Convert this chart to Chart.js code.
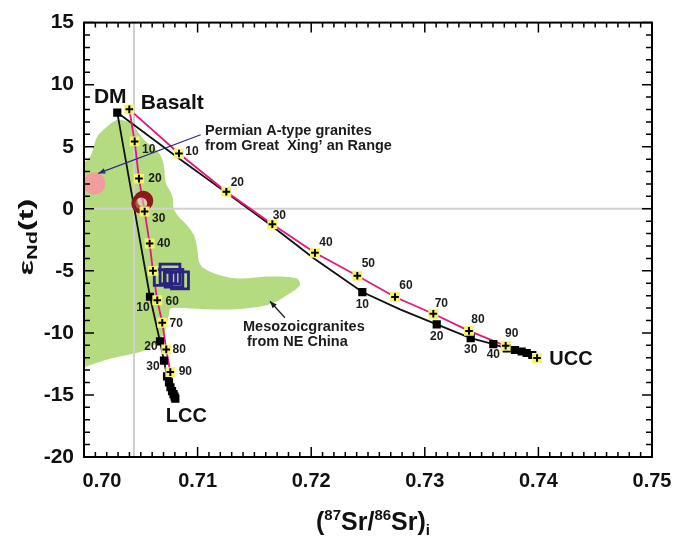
<!DOCTYPE html>
<html lang="en">
<head>
  <meta charset="UTF-8">
  <title>Sr-Nd isotope mixing</title>
  <script src="https://cdnjs.cloudflare.com/ajax/libs/Chart.js/4.4.1/chart.umd.min.js"></script>
  <style>
    body { margin: 0; background: #fff; }
    #wrap { width: 674px; height: 538px; }
  </style>
</head>
<body>
  <div id="wrap"><canvas id="chart"></canvas></div>

  <script>
    // end members
    const dmPoint = [0.70293, 7.75];
    const basaltPoint = [0.70399, 8.01];
    const lccPoint = [0.70804, -15.30];
    const uccPoint = [0.73988, -12.02];

    const mixSteps = ['10', '20', '30', '40', '50', '60', '70', '80', '90'];

    // Basalt -> LCC (yellow marks)
    const basLccX = [0.70446, 0.70484, 0.70534, 0.70578, 0.70607, 0.70645, 0.70689, 0.70724, 0.70760];
    const basLccY = [5.43, 2.43, -0.22, -2.80, -5.00, -7.37, -9.18, -11.33, -13.16];
    // Basalt -> UCC (yellow marks)
    const basUccX = [0.70836, 0.71253, 0.71658, 0.72033, 0.72406, 0.72738, 0.73075, 0.73389, 0.73712];
    const basUccY = [4.45, 1.37, -1.24, -3.55, -5.40, -7.11, -8.46, -9.84, -11.04];
    // DM -> LCC (black marks)
    const dmLccX = [0.70581, 0.70669, 0.70704, 0.70731, 0.70748, 0.70761, 0.70775, 0.70788, 0.70797];
    const dmLccY = [-7.09, -10.69, -12.23, -13.51, -13.98, -14.38, -14.70, -14.94, -15.14];
    // DM -> UCC (black marks)
    const dmUccX = [0.72450, 0.73105, 0.73404, 0.73603, 0.73721, 0.73794, 0.73853, 0.73897, 0.73946];
    const dmUccY = [-6.71, -9.31, -10.42, -10.90, -11.25, -11.38, -11.50, -11.62, -11.78];
    // DM -> UCC curve between the marks
    const dmUccBendX = [0.70836, 0.71285, 0.71637, 0.72025, 0.72782];
    const dmUccBendY = [4.05, 1.08, -1.27, -4.00, -8.11];

    // Permian A-type granites (Great Xing'an Range)
    const permianX = [0.70092];
    const permianY = [2.03];
    // brown ring samples
    const ringX = [0.70522, 0.70504];
    const ringY = [0.65, 0.42];
    // blue square samples
    const blueX = [0.70757, 0.70792, 0.70845, 0.70757, 0.70687];
    const blueY = [-5.26, -5.59, -5.77, -5.58, -5.54];

    // Mesozoic granites from NE China (outline)
    const mesoX = [0.7000, 0.70235, 0.70440, 0.70587, 0.70704, 0.70748, 0.70766, 0.71048, 0.71347, 0.71637,
      0.71840, 0.71901, 0.71875, 0.71637, 0.71347, 0.71171, 0.71056, 0.71012, 0.70997, 0.70968, 0.70909,
      0.70836, 0.70792, 0.70777, 0.70719, 0.70704, 0.70660, 0.70528, 0.70411, 0.70293, 0.70205, 0.70117,
      0.70059, 0.7000];
    const mesoY = [-12.76, -12.07, -11.67, -11.17, -10.08, -8.49, -8.01, -8.09, -8.09, -7.69,
      -6.65, -6.10, -5.62, -5.46, -5.62, -5.30, -4.80, -4.26, -3.20, -2.14, -1.34,
      -0.68, -0.02, 1.05, 2.11, 3.47, 4.50, 5.56, 6.89, 7.16, 6.63, 5.83,
      4.26, 3.71];

    // grey reference lines
    const refX = 0.7044;
    const refY = 0;

    const pts = (xs, ys) => xs.map((x, i) => ({ x: x, y: ys[i] }));
    const pt = p => ({ x: p[0], y: p[1] });

    const basLcc = pts(basLccX, basLccY);
    const basUcc = pts(basUccX, basUccY);
    const dmLcc = pts(dmLccX, dmLccY);
    const dmUcc = pts(dmUccX, dmUccY);
    const dmUccLine = [pt(dmPoint)].concat(pts(dmUccBendX, dmUccBendY), dmUcc, [pt(uccPoint)])
      .sort((a, b) => a.x - b.x);

    const yellow = '#f6f46a';
    const pink = '#e3187c';

    // label offsets (px) for the mixing percentages
    const labelSets = [
      { data: basLcc, skip: ['50'], off: [[14, 8], [16, 0], [14, 7], [14, 0], [0, 0], [15, 1], [14, 1], [13, 0], [15, 0]] },
      { data: basUcc, skip: [], off: [[13, -2], [11, -9], [7, -8], [11, -10], [11, -12], [11, -11], [8, -10], [9, -11], [6, -12]] },
      { data: dmLcc, skip: ['40', '50', '60', '70', '80', '90'], off: [[-7, 11], [-9, 5], [-11, 6]] },
      { data: dmUcc, skip: ['50', '60', '70', '80', '90'], off: [[0, 13], [0, 12], [0, 12], [0, 11]] }
    ];

    const bold = (s) => 'bold ' + s + 'px "Liberation Sans", Arial, sans-serif';

    function arrow(ctx, x0, y0, x1, y1, color) {
      ctx.strokeStyle = color;
      ctx.fillStyle = color;
      ctx.lineWidth = 1.2;
      ctx.beginPath();
      ctx.moveTo(x0, y0);
      ctx.lineTo(x1, y1);
      ctx.stroke();
      const a = Math.atan2(y1 - y0, x1 - x0), L = 7, W = 2.8;
      ctx.beginPath();
      ctx.moveTo(x1, y1);
      ctx.lineTo(x1 - L * Math.cos(a) + W * Math.sin(a), y1 - L * Math.sin(a) - W * Math.cos(a));
      ctx.lineTo(x1 - L * Math.cos(a) - W * Math.sin(a), y1 - L * Math.sin(a) + W * Math.cos(a));
      ctx.closePath();
      ctx.fill();
    }

    function richText(ctx, parts, x, y, align) {
      let w = 0;
      parts.forEach(p => { ctx.font = bold(p.size); w += ctx.measureText(p.t).width; });
      let cx = align === 'center' ? x - w / 2 : x;
      ctx.textAlign = 'left';
      ctx.textBaseline = 'alphabetic';
      parts.forEach(p => {
        ctx.font = bold(p.size);
        ctx.fillText(p.t, cx, y + (p.dy || 0));
        cx += ctx.measureText(p.t).width;
      });
    }

    const overlay = {
      id: 'overlay',
      afterDatasetsDraw(chart) {
        const { ctx, chartArea: a, scales: { x, y } } = chart;
        const px = v => x.getPixelForValue(v);
        const py = v => y.getPixelForValue(v);
        ctx.save();

        // percentage labels
        ctx.fillStyle = '#1c1c1c';
        ctx.font = bold(12);
        ctx.textAlign = 'center';
        ctx.textBaseline = 'middle';
        labelSets.forEach(set => {
          let k = 0;
          set.data.forEach((p, i) => {
            const lab = mixSteps[i];
            if (set.skip.includes(lab)) { if (set.data === basLcc) k++; return; }
            const o = set.off[k++];
            ctx.fillText(lab, px(p.x) + o[0], py(p.y) + o[1]);
          });
        });

        // end member names
        ctx.fillStyle = '#111';
        ctx.font = bold(21);
        ctx.fillText('DM', px(dmPoint[0]) - 7, py(dmPoint[1]) - 15);
        ctx.fillText('Basalt', px(basaltPoint[0]) + 43, py(basaltPoint[1]) - 6);
        ctx.font = bold(20);
        ctx.fillText('LCC', px(lccPoint[0]) + 11, py(lccPoint[1]) + 18);
        ctx.fillText('UCC', px(uccPoint[0]) + 34, py(uccPoint[1]) + 2);

        // annotations
        arrow(ctx, px(0.71027), py(5.96), px(0.70125), py(2.85), '#2e2a85');
        arrow(ctx, px(0.71769), py(-8.78), px(0.71637), py(-7.45), '#1a1a1a');
        ctx.fillStyle = '#1c1c1c';
        ctx.font = bold(14.5);
        ctx.textAlign = 'left';
        ctx.textBaseline = 'alphabetic';
        ctx.fillText('Permian A-type granites', px(0.71065), py(5.94));
        ctx.fillText('from Great  Xing\u2019 an Range', px(0.71065), py(4.74));
        ctx.fillText('Mesozoicgranites', px(0.71400), py(-9.88));
        ctx.fillText('from NE China', px(0.71435), py(-11.08));

        // frame and inward ticks
        ctx.strokeStyle = '#000';
        ctx.lineWidth = 2;
        ctx.strokeRect(a.left, a.top, a.right - a.left, a.bottom - a.top);
        ctx.lineWidth = 1.5;
        ctx.beginPath();
        for (let i = 0; i <= 50; i++) {
          const X = px(x.min + i * 0.001);
          const len = i % 10 === 0 ? 10 : 5;
          ctx.moveTo(X, a.bottom); ctx.lineTo(X, a.bottom - len);
          ctx.moveTo(X, a.top); ctx.lineTo(X, a.top + len);
        }
        for (let v = y.min; v <= y.max; v++) {
          const Y = py(v);
          const len = v % 5 === 0 ? 10 : 6;
          ctx.moveTo(a.left, Y); ctx.lineTo(a.left + len, Y);
          ctx.moveTo(a.right, Y); ctx.lineTo(a.right - len, Y);
        }
        ctx.stroke();

        // x tick labels
        ctx.fillStyle = '#111';
        ctx.font = bold(20);
        ctx.textAlign = 'center';
        ctx.textBaseline = 'top';
        x.ticks.forEach((t, i) => {
          ctx.fillText(t.value.toFixed(2), x.getPixelForTick(i) + (i === 0 ? 18 : 0), a.bottom + 14);
        });

        // axis titles
        richText(ctx, [
          { t: '(', size: 25 }, { t: '87', size: 15, dy: -10 }, { t: 'Sr/', size: 25 },
          { t: '86', size: 15, dy: -10 }, { t: 'Sr)', size: 25 }, { t: 'i', size: 15, dy: 5 }
        ], (a.left + a.right) / 2 + 5, 530, 'center');

        ctx.save();
        ctx.translate(33, 237);
        ctx.rotate(-Math.PI / 2);
        ctx.scale(1.55, 1);
        richText(ctx, [
          { t: '\u03B5', size: 21 }, { t: 'Nd', size: 14, dy: 4 }, { t: '(t)', size: 21 }
        ], 0, 0, 'center');
        ctx.restore();

        ctx.restore();
      }
    };

    new Chart(document.getElementById('chart'), {
      type: 'scatter',
      data: {
        datasets: [
          { // crosses on the yellow marks
            data: [pt(basaltPoint)].concat(basLcc, basUcc, [pt(uccPoint)]),
            pointStyle: 'cross', pointRadius: 3.8, borderColor: '#000', borderWidth: 2, order: 0
          },
          {
            data: [pt(basaltPoint)].concat(basLcc, basUcc, [pt(uccPoint)]),
            pointStyle: 'rect', pointRadius: 7, backgroundColor: yellow, borderWidth: 0, order: 1
          },
          {
            data: [pt(dmPoint)].concat(dmLcc, [pt(lccPoint)], dmUcc),
            pointStyle: 'rect', pointRadius: 5.8, backgroundColor: '#000', borderWidth: 0, order: 2
          },
          {
            data: pts(ringX, ringY),
            pointStyle: 'circle', pointRadius: 8, backgroundColor: 'rgba(240,200,200,0.35)',
            borderColor: '#8a1b1b', borderWidth: 4, order: 3
          },
          {
            data: pts(blueX, blueY),
            pointStyle: 'rect', pointRadius: [14, 12.5, 12, 8, 11], backgroundColor: 'rgba(0,0,0,0)',
            borderColor: '#2b2382', borderWidth: 2.8, order: 3
          },
          {
            data: [pt(basaltPoint)].concat(basLcc, [pt(lccPoint)]),
            showLine: true, pointRadius: 0, borderColor: pink, borderWidth: 1.8, order: 4
          },
          {
            data: [pt(basaltPoint)].concat(basUcc, [pt(uccPoint)]),
            showLine: true, pointRadius: 0, borderColor: pink, borderWidth: 1.8, order: 4
          },
          {
            data: [pt(dmPoint)].concat(dmLcc, [pt(lccPoint)]),
            showLine: true, pointRadius: 0, borderColor: '#111', borderWidth: 1.8, order: 5
          },
          {
            data: dmUccLine,
            showLine: true, pointRadius: 0, borderColor: '#111', borderWidth: 1.8, order: 5
          },
          {
            data: pts(permianX, permianY),
            pointStyle: 'circle', pointRadius: 11, backgroundColor: '#f29d9d', borderWidth: 0, order: 6
          },
          {
            data: [{ x: refX, y: -20 }, { x: refX, y: 15 }],
            showLine: true, pointRadius: 0, borderColor: '#d0d0d0', borderWidth: 2, order: 7
          },
          {
            data: [{ x: 0.70, y: refY }, { x: 0.75, y: refY }],
            showLine: true, pointRadius: 0, borderColor: '#d0d0d0', borderWidth: 2, order: 7
          },
          {
            data: pts(mesoX, mesoY),
            showLine: true, pointRadius: 0, borderWidth: 0, tension: 0.3,
            fill: 'shape', backgroundColor: '#b5db80', order: 8
          }
        ]
      },
      options: {
        responsive: true,
        maintainAspectRatio: false,
        animation: false,
        layout: { padding: { top: 18, right: 22, left: 0, bottom: 0 } },
        plugins: { legend: { display: false }, tooltip: { enabled: false } },
        scales: {
          x: {
            type: 'linear', min: 0.70, max: 0.75,
            grid: { display: false, drawTicks: false },
            border: { display: false },
            ticks: { stepSize: 0.01, display: false },
            afterFit: s => { s.height = 81; }
          },
          y: {
            min: -20, max: 15,
            grid: { display: false, drawTicks: false },
            border: { display: false },
            ticks: {
              stepSize: 5, padding: 10, color: '#111',
              font: { family: '"Liberation Sans", Arial, sans-serif', size: 21, weight: 'bold' }
            },
            afterFit: s => { s.width = 84; }
          }
        }
      },
      plugins: [overlay]
    });
  </script>
</body>
</html>
